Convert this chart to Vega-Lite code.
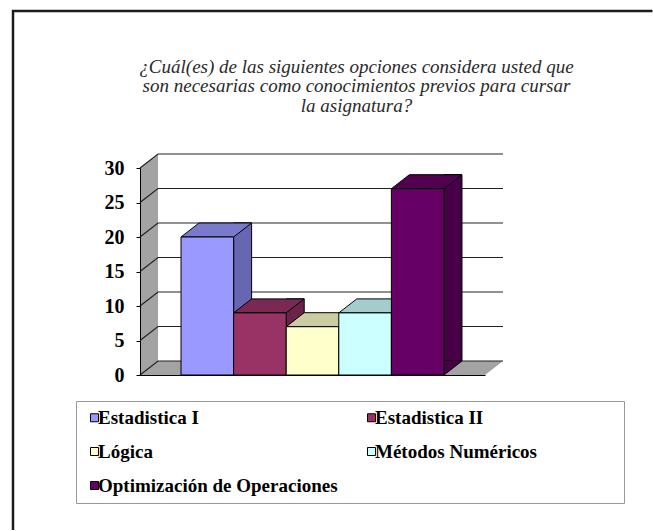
{
  "$schema": "https://vega.github.io/schema/vega-lite/v6.json",
  "width": 640,
  "height": 520,
  "autosize": {"type": "none"},
  "padding": {"left": 13, "top": 11, "right": 0, "bottom": 0},
  "background": "white",
  "config": {
    "font": "Liberation Serif",
    "view": {"stroke": "transparent", "strokeWidth": 0, "fill": "white"}
  },
  "data": {
    "values": [
      {"cat": "Estadistica I", "v": 20},
      {"cat": "Estadistica II", "v": 9},
      {"cat": "Lógica", "v": 7},
      {"cat": "Métodos Numéricos", "v": 9},
      {"cat": "Optimización de Operaciones", "v": 27}
    ]
  },
  "resolve": {"scale": {"color": "independent"}},
  "layer": [
    {
      "data": {"values": [{"part": "frame"}]},
      "mark": {"type": "point", "shape": "M-299.5,155L-299.5,-364L340,-364", "size": 4, "filled": false, "opacity": 1, "color": "#1c1c1c", "strokeWidth": 2.5},
      "encoding": {
        "x": {"datum": "Lógica", "type": "nominal"},
        "y": {"datum": 0, "type": "quantitative"}
      }
    },
    {
      "data": {"values": [{"part": "wall"}]},
      "mark": {"type": "point", "shape": "M-172.5,0L-172.5,-207L-154.5,-221L-154.5,-14L190.5,-14L172.5,0Z", "size": 4, "filled": true, "opacity": 1, "color": "#a3a3a3", "strokeWidth": 0},
      "encoding": {
        "x": {"datum": "Lógica", "type": "nominal"},
        "y": {"datum": 0, "type": "quantitative"}
      }
    },
    {
      "data": {"values": [{"t": 0}, {"t": 5}, {"t": 10}, {"t": 15}, {"t": 20}, {"t": 25}, {"t": 30}]},
      "mark": {"type": "point", "shape": "M-172.5,0L-154.5,-14L190.5,-14", "size": 4, "filled": false, "opacity": 1, "color": "#222222", "strokeWidth": 1.2},
      "encoding": {
        "x": {"datum": "Lógica", "type": "nominal"},
        "y": {"field": "t", "type": "quantitative"}
      }
    },
    {
      "mark": {"type": "bar", "width": 18, "xOffset": 35.3, "yOffset": -14, "y2Offset": -14, "stroke": "black", "strokeWidth": 1},
      "encoding": {
        "x": {"field": "cat", "type": "nominal"},
        "y": {"field": "v", "type": "quantitative"},
        "y2": {"datum": 0},
        "color": {"field": "cat", "type": "nominal", "scale": {"domain": ["Estadistica I", "Estadistica II", "Lógica", "Métodos Numéricos", "Optimización de Operaciones"], "range": ["#6666b3", "#6b2447", "#b3b38f", "#8fb3b3", "#470047"]}, "legend": null}
      }
    },
    {
      "mark": {"type": "point", "shape": "M26.3,-14L26.3,0L44.3,-14", "size": 4, "filled": true, "opacity": 1, "stroke": "black", "strokeWidth": 1},
      "encoding": {
        "x": {"field": "cat", "type": "nominal"},
        "y": {"datum": 0, "type": "quantitative"},
        "color": {"field": "cat", "type": "nominal", "scale": {"domain": ["Estadistica I", "Estadistica II", "Lógica", "Métodos Numéricos", "Optimización de Operaciones"], "range": ["#6666b3", "#6b2447", "#b3b38f", "#8fb3b3", "#470047"]}, "legend": null}
      }
    },
    {
      "mark": {"type": "point", "shape": "M-26.3,0L26.3,0L44.3,-14L-8.3,-14Z", "size": 4, "filled": true, "opacity": 1, "stroke": "black", "strokeWidth": 1},
      "encoding": {
        "x": {"field": "cat", "type": "nominal"},
        "y": {"field": "v", "type": "quantitative"},
        "color": {"field": "cat", "type": "nominal", "scale": {"domain": ["Estadistica I", "Estadistica II", "Lógica", "Métodos Numéricos", "Optimización de Operaciones"], "range": ["#7a7acc", "#7a2952", "#cccca3", "#a3cccc", "#520052"]}, "legend": null}
      }
    },
    {
      "mark": {"type": "bar", "stroke": "black", "strokeWidth": 1},
      "encoding": {
        "x": {
          "field": "cat",
          "type": "nominal",
          "scale": {"domain": ["Estadistica I", "Estadistica II", "Lógica", "Métodos Numéricos", "Optimización de Operaciones"], "range": [127, 472], "paddingInner": 0, "paddingOuter": 0.78},
          "axis": {"orient": "bottom", "offset": -156, "labels": false, "ticks": false, "title": null, "domainColor": "black", "domainWidth": 1, "zindex": 1}
        },
        "y": {
          "field": "v",
          "type": "quantitative",
          "scale": {"domain": [0, 30], "range": [364, 157], "nice": false},
          "axis": {
            "orient": "left",
            "offset": -127,
            "values": [0, 5, 10, 15, 20, 25, 30],
            "grid": false,
            "domainColor": "black",
            "tickColor": "black",
            "tickSize": 4,
            "labelPadding": 12,
            "labelFont": "Liberation Serif",
            "labelFontWeight": "bold",
            "labelFontSize": 20,
            "labelColor": "black",
            "zindex": 1,
            "title": ["¿Cuál(es) de las siguientes opciones considera usted que", "son necesarias como conocimientos previos para cursar", "la asignatura?"],
            "titleFont": "Liberation Serif",
            "titleFontStyle": "italic",
            "titleFontWeight": "normal",
            "titleFontSize": 19,
            "titleLineHeight": 19.7,
            "titleColor": "#2a2a2a",
            "titleAngle": 0,
            "titleAlign": "center",
            "titleBaseline": "alphabetic",
            "titleX": 216,
            "titleY": 61
          }
        },
        "color": {
          "field": "cat",
          "type": "nominal",
          "scale": {"domain": ["Estadistica I", "Lógica", "Optimización de Operaciones", "Estadistica II", "Métodos Numéricos"], "range": ["#9999ff", "#ffffcc", "#660066", "#993366", "#ccffff"]},
          "legend": {
            "orient": "none",
            "legendX": 63,
            "legendY": 390,
            "direction": "vertical",
            "columns": 2,
            "gridAlign": "all",
            "columnPadding": 22,
            "rowPadding": 14,
            "symbolType": "square",
            "symbolSize": 64,
            "symbolStrokeColor": "black",
            "symbolStrokeWidth": 1,
            "symbolOpacity": 1,
            "symbolOffset": 2,
            "labelFont": "Liberation Serif",
            "labelFontWeight": "bold",
            "labelFontSize": 19,
            "labelColor": "black",
            "labelLimit": 400,
            "labelOffset": -6,
            "padding": 7,
            "strokeColor": "#999999",
            "title": " ",
            "titleOrient": "right",
            "titlePadding": 80,
            "titleFontSize": 10
          }
        }
      }
    }
  ]
}
